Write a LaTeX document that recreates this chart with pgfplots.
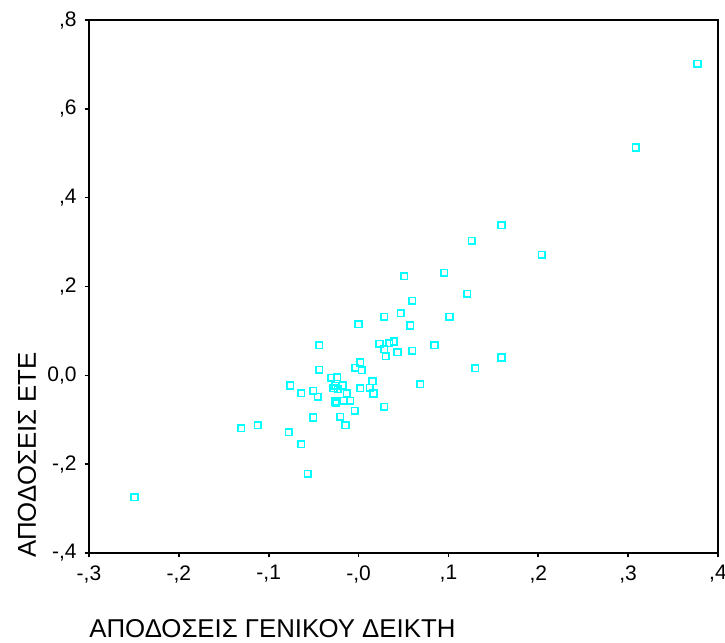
\documentclass[border=0pt]{standalone}
\usepackage{fontspec}
\setmainfont{Liberation Sans}
\usepackage{pgfplots}
\pgfplotsset{compat=1.18}
\definecolor{spsscyan}{RGB}{0,255,255}
\begin{document}
\begin{tikzpicture}
\begin{axis}[
  at={(0,0)}, anchor=south west,
  scale only axis,
  width=314.5pt, height=266.5pt,
  xmin=-0.3, xmax=0.4, ymin=-0.4, ymax=0.8,
  axis line style={line width=1pt, black},
  every tick/.style={line width=0.8pt, black},
  tick align=outside, tick pos=left,
  major tick length=2.2pt,
  xtick={-0.3,-0.2,-0.1,0,0.1,0.2,0.3,0.4},
  xticklabels={{-,3},{-,2},{-,1},{-,0},{,1},{,2},{,3},{,4}},
  ytick={-0.4,-0.2,0,0.2,0.4,0.6,0.8},
  yticklabels={{-,4},{-,2},{0,0},{,2},{,4},{,6},{,8}},
  ticklabel style={font=\fontsize{10.5}{12}\selectfont},
  yticklabel style={xshift=-0.5pt},
  xticklabel style={yshift=-0.5pt},
  xlabel={ΑΠΟΔΟΣΕΙΣ ΓΕΝΙΚΟΥ ΔΕΙΚΤΗ},
  ylabel={ΑΠΟΔΟΣΕΙΣ ΕΤΕ},
  label style={font=\fontsize{12.9}{15}\selectfont, inner sep=0pt},
  xlabel style={at={(axis description cs:0,-0.159)}, anchor=base west},
  ylabel style={at={(axis description cs:-0.0843,-0.01)}, anchor=base west},
  clip=false,
]
\addplot[only marks, mark=square, mark size=1.65pt, spsscyan, line width=0.8pt] table {
x y
-0.2494 -0.274
-0.1306 -0.119
-0.1120 -0.112
-0.0775 -0.128
-0.0760 -0.023
-0.0638 -0.155
-0.0638 -0.040
-0.0563 -0.222
-0.0504 -0.035
-0.0504 -0.095
-0.0452 -0.048
-0.0438 0.068
-0.0438 0.0126
-0.0304 -0.0054
-0.0240 -0.0045
-0.0256 -0.024
-0.0278 -0.029
-0.0229 -0.031
-0.0174 -0.023
-0.0129 -0.041
-0.0260 -0.059
-0.0248 -0.063
-0.0167 -0.057
-0.0092 -0.057
-0.0040 -0.080
-0.0204 -0.093
-0.0145 -0.112
0.0019 -0.029
0.0156 -0.013
0.0167 -0.041
-0.0037 0.017
0.0019 0.029
0.0038 0.012
0.0000 0.115
0.0127 -0.028
0.0286 -0.071
0.0234 0.071
0.0286 0.059
0.0305 0.043
0.0339 0.072
0.0394 0.076
0.0434 0.052
0.0286 0.132
0.0468 0.140
0.0506 0.223
0.0595 0.168
0.0576 0.112
0.0595 0.055
0.0684 -0.020
0.0846 0.068
0.0954 0.231
0.1013 0.132
0.1210 0.184
0.1258 0.303
0.1300 0.016
0.1590 0.338
0.1590 0.040
0.2038 0.271
0.3085 0.513
0.3772 0.701
};
\end{axis}
\pgfresetboundingbox
\path[use as bounding box] (-44.5pt,-45pt) rectangle (318pt,276.5pt);
\end{tikzpicture}
\end{document}
